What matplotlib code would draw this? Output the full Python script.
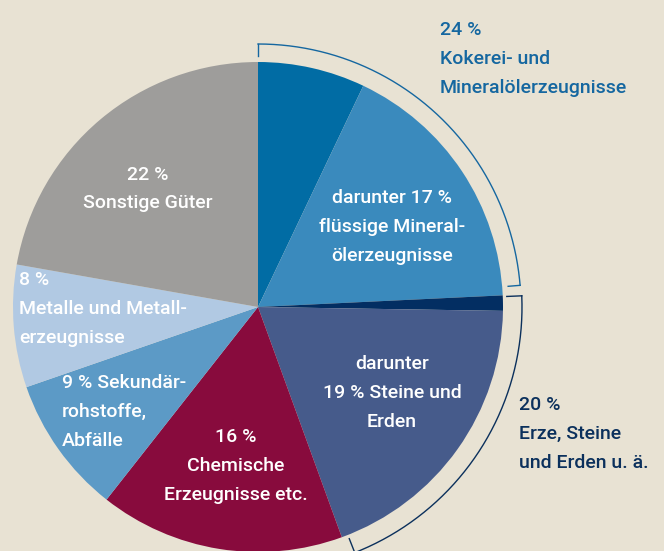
"""
Güterstruktur: Kreisdiagramm mit Klammern für zusammengefasste Gruppen
"""
import numpy as np
import matplotlib.pyplot as plt

plt.rcParams['font.family'] = ['Roboto', 'DejaVu Sans']

# Anteile in %, im Uhrzeigersinn ab 12 Uhr
segmente = ['Kokerei sonstige', 'flüssige Mineralölerzeugnisse', 'Erze',
            'Steine und Erden', 'Chemische Erzeugnisse',
            'Sekundärrohstoffe', 'Metalle', 'Sonstige Güter']
anteile = [7, 17, 1, 19, 16, 9, 8, 22]
farben = ['#016ca4', '#3a8abd', '#032e62', '#465b8b', '#880b3d',
          '#5c9ac6', '#b1c9e3', '#9e9d9b']

gruppen_farben = ['#1567a0', '#0b305c']

hintergrund = '#e8e2d3'
W, H = 664, 551
cx, cy, r = 258, H - 307, 245

fig = plt.figure(figsize=(W / 100, H / 100), dpi=100, facecolor=hintergrund)
ax = fig.add_axes([0, 0, 1, 1])

ax.pie(anteile, colors=farben, startangle=90, counterclock=False,
       center=(cx, cy), radius=r, frame=True,
       wedgeprops=dict(linewidth=0))
ax.set_xlim(0, W)
ax.set_ylim(0, H)
ax.set_aspect('equal')
ax.axis('off')

# Winkel (Grad, im Uhrzeigersinn ab oben) der Segmentgrenzen
grenzen = np.concatenate([[0], np.cumsum(anteile)]) / sum(anteile) * 360


def klammer(a0, a1, R, farbe, tick=12):
    a = np.radians(np.linspace(a0, a1, 200))
    ax.plot(cx + R * np.sin(a), cy + R * np.cos(a), color=farbe, lw=1.0)
    for w in (a0, a1):
        w = np.radians(w)
        ax.plot([cx + R * np.sin(w), cx + (R - tick) * np.sin(w)],
                [cy + R * np.cos(w), cy + (R - tick) * np.cos(w)],
                color=farbe, lw=1.0)


klammer(grenzen[0], grenzen[2] - 2.0, 263, gruppen_farben[0])
klammer(grenzen[2] + 0.3, grenzen[4] - 1.5, 264, gruppen_farben[1], tick=15)

fs = 14
ls = 1.78
weiss = 'white'


def txt(x, y, s, ha='center', color=weiss):
    ax.text(x, H - y, s, ha=ha, va='center', fontsize=fs, color=color,
            linespacing=ls, fontweight=500)


txt(148, 189, '22 %\nSonstige Güter')
txt(392, 227, 'darunter 17 %\nflüssige Mineral-\nölerzeugnisse')
txt(19, 309, '8 %\nMetalle und Metall-\nerzeugnisse', ha='left')
txt(392, 393, 'darunter\n19 % Steine und\nErden')
txt(62, 412, '9 % Sekundär-\nrohstoffe,\nAbfälle', ha='left')
txt(236, 466, '16 %\nChemische\nErzeugnisse etc.')
txt(440, 59, '24 %\nKokerei- und\nMineralölerzeugnisse', ha='left',
    color=gruppen_farben[0])
txt(519, 434, '20 %\nErze, Steine\nund Erden u. ä.', ha='left',
    color=gruppen_farben[1])

fig.savefig('out.png', dpi=100, facecolor=hintergrund)
